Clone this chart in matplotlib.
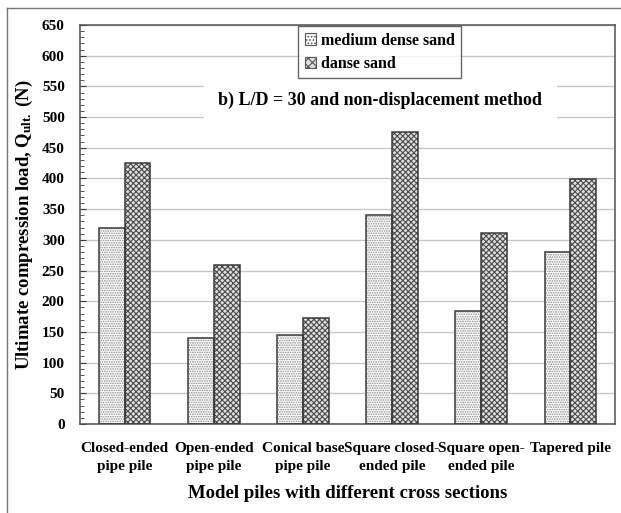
import numpy as np
import matplotlib
matplotlib.use('Agg')
import matplotlib.pyplot as plt
from matplotlib.patches import Patch
from matplotlib.ticker import MultipleLocator
from matplotlib.lines import Line2D

# Model pile types (x categories)
pile_types = ['Closed-ended\npipe pile', 'Open-ended\npipe pile', 'Conical base\npipe pile',
              'Square closed-\nended pile', 'Square open-\nended pile', 'Tapered pile']

# Ultimate compression load, N
medium_dense = [320, 140, 145, 340, 184, 280]
dense = [425, 259, 172, 475, 311, 399]

series_names = ['medium dense sand', 'danse sand']

plt.rcParams['font.family'] = ['Liberation Serif', 'DejaVu Serif']
plt.rcParams['font.weight'] = 'bold'
plt.rcParams['mathtext.fontset'] = 'custom'
plt.rcParams['mathtext.rm'] = 'Liberation Serif:bold'
plt.rcParams['mathtext.bf'] = 'Liberation Serif:bold'
plt.rcParams['mathtext.it'] = 'Liberation Serif:bold'
plt.rcParams['hatch.linewidth'] = 0.8

fig = plt.figure(figsize=(6.21, 5.13), dpi=100)
ax = fig.add_axes([80 / 621, 89 / 513, 535 / 621, 399 / 513])

x = np.arange(len(pile_types))
w = 0.29
edge = '#3a3a3a'

# hatched fill first, then outline on top
ax.bar(x - w / 2, medium_dense, w, color='white', edgecolor='#8a8a8a', hatch='.......', lw=0, zorder=2)
ax.bar(x + w / 2, dense, w, color='#e0e0e0', edgecolor='#4a4a4a', hatch='xxxxxx', lw=0, zorder=2)
ax.bar(x - w / 2, medium_dense, w, fill=False, edgecolor=edge, lw=1.1, zorder=3)
ax.bar(x + w / 2, dense, w, fill=False, edgecolor=edge, lw=1.1, zorder=3)

ax.set_xlim(-0.5, len(pile_types) - 0.5)
ax.set_ylim(0, 650)
ax.yaxis.set_major_locator(MultipleLocator(50))
ax.yaxis.set_minor_locator(MultipleLocator(10))
ax.yaxis.grid(True, color='#c8c8c8', lw=1.0, zorder=0)
ax.set_axisbelow(True)

ax.set_xticks(x)
ax.set_xticklabels(pile_types, fontsize=11, fontweight='bold', linespacing=1.5)
ax.tick_params(axis='x', length=0, pad=13)
ax.tick_params(axis='y', which='both', direction='in', color=edge, labelsize=11, pad=11)
ax.tick_params(axis='y', which='major', length=4)
ax.tick_params(axis='y', which='minor', length=3)
for lab in ax.get_yticklabels():
    lab.set_fontweight('bold')
for sp in ax.spines.values():
    sp.set_color('#505050')
    sp.set_linewidth(1.1)

ax.set_ylabel('Ultimate compression load, Q$_{\\mathrm{ult.}}$ (N)', fontsize=13.5, fontweight='bold')
ax.yaxis.set_label_coords(-0.084, 0.5)
ax.set_xlabel('Model piles with different cross sections', fontsize=13.5, fontweight='bold')
ax.xaxis.set_label_coords(0.5, -0.153)

ax.text(0.561, 0.812, 'b) L/D = 30 and non-displacement method', transform=ax.transAxes,
        ha='center', va='center', fontsize=13, fontweight='bold', zorder=4,
        bbox=dict(boxstyle='square,pad=0.8', fc='white', ec='none'))

handles = [Patch(facecolor='white', edgecolor='#555555', hatch='.....', lw=0.8),
           Patch(facecolor='#e0e0e0', edgecolor='#555555', hatch='xxxx', lw=0.8)]
leg = ax.legend(handles, series_names, loc='upper center', bbox_to_anchor=(0.56, 0.997),
                fontsize=11.5, frameon=True, fancybox=False, edgecolor='#404040',
                handlelength=0.7, handleheight=0.7, handletextpad=0.3, borderpad=0.4,
                labelspacing=0.45, borderaxespad=0)
leg.get_frame().set_linewidth(1.0)
for t in leg.get_texts():
    t.set_fontweight('bold')

# outer frame lines (top and left)
fig.add_artist(Line2D([7 / 621, 1.0], [1 - 8 / 513, 1 - 8 / 513], color='#777777', lw=1.0))
fig.add_artist(Line2D([7 / 621, 7 / 621], [0.0, 1 - 8 / 513], color='#777777', lw=1.0))

fig.savefig('out.png', dpi=100)
